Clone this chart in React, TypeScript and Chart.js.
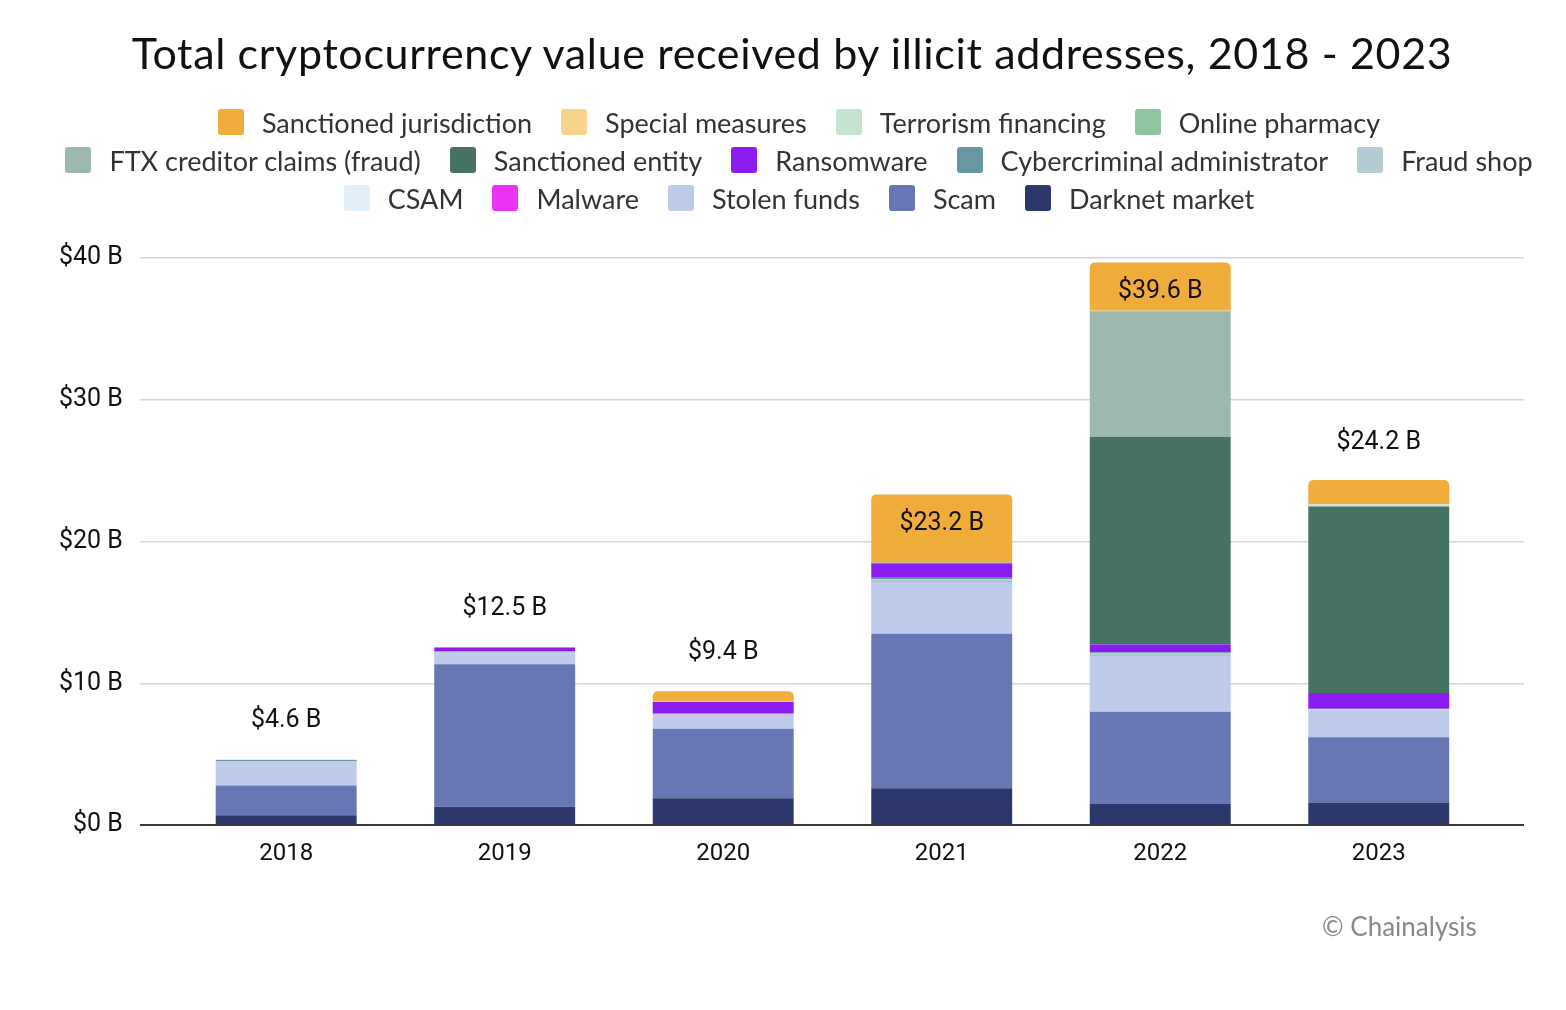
import React, { useEffect, useRef } from 'react';
import { Chart, registerables } from 'chart.js';
Chart.register(...registerables);

const categories = ['2018', '2019', '2020', '2021', '2022', '2023'];

// Stack order, bottom to top
const seriesNames = [
  'Darknet market',
  'Scam',
  'Stolen funds',
  'Malware',
  'CSAM',
  'Fraud shop',
  'Cybercriminal administrator',
  'Ransomware',
  'Sanctioned entity',
  'FTX creditor claims (fraud)',
  'Online pharmacy',
  'Terrorism financing',
  'Special measures',
  'Sanctioned jurisdiction',
];

const seriesColors = [
  '#2C386C',
  '#6777B3',
  '#BECBEA',
  '#EA34F2',
  '#E3F0F9',
  '#B3CCD3',
  '#6797A3',
  '#8A1CF2',
  '#467264',
  '#9DB8AE',
  '#8FC4A1',
  '#C5E3D1',
  '#F7D48A',
  '#F0AD3C',
];

const darknetMarket = [0.7, 1.3, 1.9, 2.6, 1.5, 1.6];
const scam = [2.1, 10.05, 4.9, 10.9, 6.5, 4.6];
const stolenFunds = [1.65, 0.75, 0.85, 3.65, 3.95, 1.9];
const malware = [0.01, 0.02, 0.02, 0.03, 0.03, 0.02];
const csam = [0.01, 0.01, 0.01, 0.02, 0.02, 0.02];
const fraudShop = [0.02, 0.1, 0.15, 0.15, 0.15, 0.05];
const cybercriminalAdmin = [0.1, 0.05, 0.05, 0.1, 0.05, 0.03];
const ransomware = [0.01, 0.25, 0.8, 1.0, 0.55, 1.1];
const sanctionedEntity = [0, 0, 0, 0.05, 14.65, 13.15];
const ftxClaims = [0, 0, 0, 0, 8.85, 0];
const onlinePharmacy = [0.01, 0.01, 0.01, 0.01, 0.01, 0.01];
const terrorismFinancing = [0, 0.01, 0.01, 0.02, 0.02, 0.15];
const specialMeasures = [0, 0, 0, 0, 0, 0.02];
const sanctionedJurisdiction = [0, 0, 0.75, 4.8, 3.4, 1.7];

const seriesValues = [
  darknetMarket,
  scam,
  stolenFunds,
  malware,
  csam,
  fraudShop,
  cybercriminalAdmin,
  ransomware,
  sanctionedEntity,
  ftxClaims,
  onlinePharmacy,
  terrorismFinancing,
  specialMeasures,
  sanctionedJurisdiction,
];

const totals = [4.6, 12.5, 9.4, 23.2, 39.6, 24.2];
const yTicks = [0, 10, 20, 30, 40];

const LEGEND_FONT = 'Lato, "Noto Sans", sans-serif';
const NUM_FONT = 'Roboto, "Noto Sans", sans-serif';

function topDatasetIndex(i: number): number {
  for (let d = seriesValues.length - 1; d >= 0; d--) {
    if (seriesValues[d][i] > 0) return d;
  }
  return 0;
}

const totalsPlugin = {
  id: 'totalsPlugin',
  afterDatasetsDraw(chart: any) {
    const ctx = chart.ctx;
    const yScale = chart.scales.y;
    ctx.save();
    ctx.font = '25px ' + NUM_FONT;
    ctx.fillStyle = '#111';
    ctx.textAlign = 'center';
    ctx.textBaseline = 'middle';
    categories.forEach((_, i) => {
      const d = topDatasetIndex(i);
      const el = chart.getDatasetMeta(d).data[i];
      const top = yScale.getPixelForValue(totals[i]);
      const segH = el.base - el.y;
      const y = segH > 35 ? top + 28 : top - 39;
      ctx.fillText('$' + totals[i].toFixed(1) + ' B', el.x, y);
    });
    ctx.restore();
  },
};

export default function App() {
  const ref = useRef<HTMLCanvasElement>(null);

  useEffect(() => {
    const gridColor = (c: any) => (c.tick && c.tick.value === 0 ? '#3a3a3a' : '#d6d6d6');
    const gridWidth = (c: any) => (c.tick && c.tick.value === 0 ? 2 : 1.5);
    const chart = new Chart(ref.current!, {
      type: 'bar',
      data: {
        labels: categories,
        datasets: seriesNames.map((name, d) => ({
          label: name,
          data: seriesValues[d],
          backgroundColor: seriesColors[d],
          borderWidth: 0,
          categoryPercentage: 1,
          barPercentage: 0.645,
          borderSkipped: false,
          borderRadius: (c: any) =>
            topDatasetIndex(c.dataIndex) === c.datasetIndex
              ? { topLeft: 5, topRight: 5, bottomLeft: 0, bottomRight: 0 }
              : 0,
        })),
      },
      options: {
        responsive: false,
        animation: false,
        layout: { padding: { top: 250, left: 34, right: 34, bottom: 116 } },
        plugins: {
          legend: { display: false },
          title: { display: false },
          tooltip: { enabled: false },
        },
        scales: {
          x: {
            stacked: true,
            grid: { display: false, drawTicks: false },
            border: { display: false },
            ticks: { color: '#111', font: { family: NUM_FONT, size: 24 }, padding: 14 },
          },
          y: {
            stacked: true,
            min: 0,
            max: 40,
            afterBuildTicks: (s: any) => {
              s.ticks = yTicks.map((v) => ({ value: v }));
            },
            border: { display: false },
            grid: { color: gridColor, lineWidth: gridWidth, tickLength: 37, drawTicks: true },
            ticks: {
              color: '#111',
              padding: 17,
              font: { family: NUM_FONT, size: 25 },
              callback: (v: any) => '$' + v + ' B',
            },
          },
          y2: {
            position: 'right',
            min: 0,
            max: 40,
            afterBuildTicks: (s: any) => {
              s.ticks = yTicks.map((v) => ({ value: v }));
            },
            border: { display: false },
            grid: {
              drawOnChartArea: false,
              drawTicks: true,
              tickLength: 36,
              color: gridColor,
              lineWidth: gridWidth,
            },
            ticks: { display: false },
          },
        },
      },
      plugins: [totalsPlugin],
    } as any);
    return () => chart.destroy();
  }, []);

  const legendItems = seriesNames.map((n, i) => ({ name: n, color: seriesColors[i] })).reverse();

  return (
    <div style={{ position: 'relative', width: 1550, height: 990 }}>
      <canvas ref={ref} width={1550} height={990} style={{ width: 1550, height: 990, display: 'block' }} />
      <div
        style={{
          position: 'absolute',
          top: 20,
          left: 9,
          width: 1550,
          textAlign: 'center',
          fontFamily: LEGEND_FONT,
          fontSize: 43,
          letterSpacing: 0.65,
          color: '#111',
          lineHeight: '50px',
        }}
      >
        Total cryptocurrency value received by illicit addresses, 2018 - 2023
      </div>
      <div
        style={{
          position: 'absolute',
          top: 95,
          left: 16 + 25,
          width: 1500,
          display: 'flex',
          flexWrap: 'wrap',
          justifyContent: 'center',
          columnGap: 29,
          rowGap: 0,
          fontFamily: LEGEND_FONT,
          fontSize: 27,
          color: '#333',
        }}
      >
        {legendItems.map((it) => (
          <div key={it.name} style={{ display: 'flex', alignItems: 'center', height: 38 }}>
            <span
              style={{
                width: 26,
                height: 26,
                borderRadius: 3,
                background: it.color,
                display: 'inline-block',
                marginRight: 18,
              }}
            />
            <span>{it.name}</span>
          </div>
        ))}
      </div>
      <div
        style={{
          position: 'absolute',
          top: 902,
          left: 1314,
          fontFamily: LEGEND_FONT,
          fontSize: 26,
          color: '#888',
        }}
      >
        © Chainalysis
      </div>
    </div>
  );
}
